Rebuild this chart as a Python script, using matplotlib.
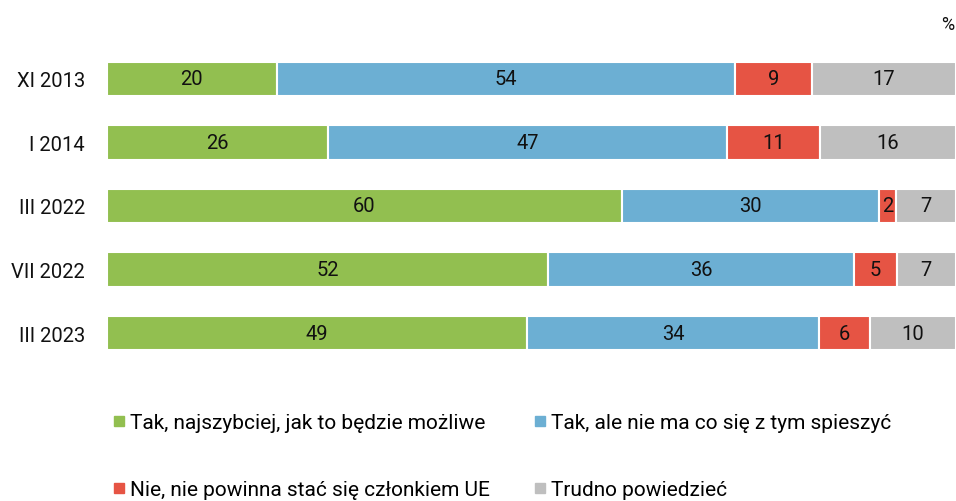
import numpy as np
import matplotlib.pyplot as plt
from matplotlib.lines import Line2D

plt.rcParams['font.family'] = ['Roboto', 'DejaVu Sans']

periods = ["XI 2013", "I 2014", "III 2022", "VII 2022", "III 2023"]
series = ["Tak, najszybciej, jak to będzie możliwe",
          "Tak, ale nie ma co się z tym spieszyć",
          "Nie, nie powinna stać się członkiem UE",
          "Trudno powiedzieć"]
tak_szybko = [20, 26, 60, 52, 49]
tak_powoli = [54, 47, 30, 36, 34]
nie = [9, 11, 2, 5, 6]
trudno = [17, 16, 7, 7, 10]
colors = ["#92bf50", "#6cafd3", "#e65444", "#bfbfbf"]

values = np.array([tak_szybko, tak_powoli, nie, trudno], dtype=float)
shares = values / values.sum(axis=0) * 100  # 100% stacked

fig = plt.figure(figsize=(9.56, 5.02), dpi=100)
ax = fig.add_axes([107 / 956, 1 - 366 / 502, 1 - 107 / 956, 318 / 502])

y = np.arange(len(periods))
left = np.zeros(len(periods))
for vals, sh, col in zip(values, shares, colors):
    bars = ax.barh(y, sh, left=left, height=0.54, color=col,
                   edgecolor="white", linewidth=1.5)
    for b, v in zip(bars, vals):
        ax.text(b.get_x() + b.get_width() / 2, b.get_y() + b.get_height() / 2,
                f"{v:g}", ha="center", va="center", fontsize=14.5, color="#111111")
    left += sh

ax.set_xlim(0, 100)
ax.set_ylim(len(periods) - 0.5, -0.5)
ax.set_yticks(y)
ax.set_yticklabels(periods, fontsize=14.5, color="#111111")
ax.tick_params(axis="y", length=0, pad=16)
ax.set_xticks([])
for s in ax.spines.values():
    s.set_visible(False)

fig.text(948 / 956, 1 - 25 / 502, "%", ha="center", va="center", fontsize=13, color="#111111")

handles = [Line2D([], [], marker="s", linestyle="none", color=c, markersize=7.5) for c in colors]
order = [0, 2, 1, 3]
fig.legend([handles[i] for i in order], [series[i] for i in order], ncol=2,
           loc="upper left", bbox_to_anchor=(102 / 956, 1 - 404 / 502),
           frameon=False, fontsize=15, handlelength=0.6, handletextpad=0.25,
           labelspacing=2.3, columnspacing=2.1, borderpad=0)

fig.savefig("out.png", dpi=100)
